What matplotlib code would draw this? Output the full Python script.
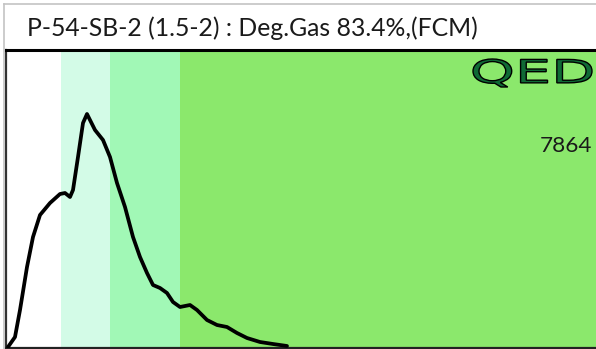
import matplotlib
matplotlib.use("Agg")
import matplotlib.pyplot as plt
from matplotlib.lines import Line2D
from matplotlib.patches import PathPatch
from matplotlib.textpath import TextPath
from matplotlib.font_manager import FontProperties
from matplotlib.transforms import Affine2D

# Histogram trace (channel, events)
channel = [2, 9, 14, 21, 27, 34, 44, 54, 59, 64, 67, 72, 77, 81, 84, 89, 97,
           104, 111, 119, 127, 134, 141, 147, 154, 161, 167, 174, 184, 191,
           201, 211, 221, 231, 241, 254, 267, 281]
events = [1, 11, 38, 81, 111, 133, 145, 154, 155, 151, 158, 191, 225, 234,
          228, 218, 208, 191, 165, 141, 111, 91, 75, 63, 60, 55, 46, 41, 43,
          38, 28, 23, 21, 15, 10, 6, 4, 2]

# Gate regions: boundaries and fill colours
gate_edges = [0, 55, 104, 174, 590]
gate_colors = ["#ffffff", "#d3fbe7", "#a1f8b6", "#8be86c"]

title = "P-54-SB-2 (1.5-2) : Deg.Gas 83.4%,(FCM)"
count_label = "7864"
logo = "QED"

W, H = 596, 349
fig = plt.figure(figsize=(W / 100, H / 100), dpi=100)
fig.patch.set_facecolor("white")

# outer light frame
fig.add_artist(Line2D([4 / W, 1], [1 - 4 / H, 1 - 4 / H], color="#c4c4c4", lw=1.2))
fig.add_artist(Line2D([4 / W, 4 / W], [0, 1 - 4 / H], color="#c4c4c4", lw=1.2))

ax = fig.add_axes([6 / W, 1 / H, (W - 6) / W, (348 - 50) / H])
ax.set_xlim(gate_edges[0], gate_edges[-1])
ax.set_ylim(0, 298)
for (a, b), c in zip(zip(gate_edges[:-1], gate_edges[1:]), gate_colors):
    ax.axvspan(a, b, color=c, lw=0, zorder=0)
ax.plot(channel, events, color="black", lw=2.7, solid_joinstyle="round",
        solid_capstyle="round", zorder=3)
ax.set_xticks([])
ax.set_yticks([])
ax.spines["right"].set_visible(False)
ax.spines["top"].set_linewidth(2.2)
ax.spines["top"].set_color("black")
ax.spines["left"].set_linewidth(1.6)
ax.spines["left"].set_color("#333333")
ax.spines["bottom"].set_linewidth(1.6)
ax.spines["bottom"].set_color("#222222")

font = ["Lato", "DejaVu Sans"]
fig.text(27 / W, 1 - 36 / H, title, family=font, fontsize=17.8,
         color="#1a1a1a", va="baseline", ha="left")
fig.text(592 / W, 1 - 152 / H, count_label, family=font, fontsize=16.2,
         color="#1a1a1a", va="baseline", ha="right")

# logo drawn as a stretched, outlined text path
tp = TextPath((0, 0), logo, size=10, prop=FontProperties(family="DejaVu Sans"))
ext = tp.get_extents()
x0, x1, y0, y1 = 473, 592, H - 87, H - 59
sx = (x1 - x0) / ext.width
sy = (y1 - y0) / ext.height
tr = (Affine2D().translate(-ext.x0, -ext.y0).scale(sx, sy).translate(x0, y0)
      .scale(1 / W, 1 / H)) + fig.transFigure
fig.add_artist(PathPatch(tp, transform=tr, facecolor="#0f6a35",
                         edgecolor="black", lw=1.0))

fig.savefig("out.png", dpi=100)
